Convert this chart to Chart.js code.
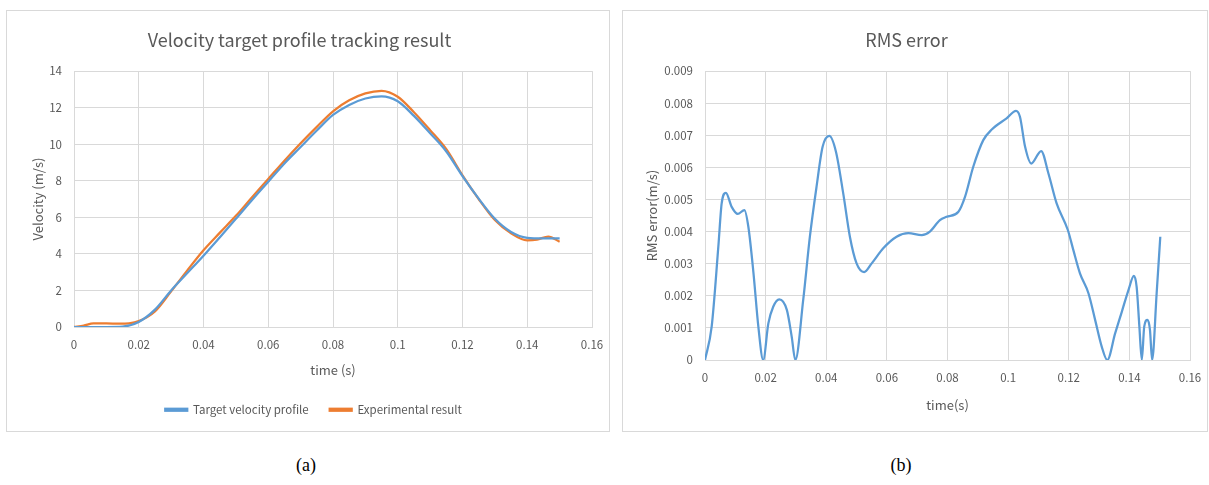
<!DOCTYPE html>
<html><head><meta charset="utf-8">
<script src="https://cdn.jsdelivr.net/npm/chart.js@4.4.0/dist/chart.umd.min.js"></script>
<style>
body{margin:0;background:#fff;width:1209px;height:485px;position:relative;overflow:hidden;}
.box{position:absolute;border:1px solid #d9d9d9;}
#boxA{left:6px;top:10px;width:602px;height:420px;}
#boxB{left:622px;top:10px;width:584px;height:420px;}
.cap{position:absolute;top:455px;font-family:"Liberation Serif";font-size:18px;color:#000;transform:translateX(-50%);}
canvas{display:block;}
</style></head>
<body>
<div class="box" id="boxA"><canvas id="cA" width="602" height="420"></canvas></div>
<div class="box" id="boxB"><canvas id="cB" width="584" height="420"></canvas></div>
<div class="cap" style="left:306px">(a)</div>
<div class="cap" style="left:901px">(b)</div>
<script>
// ---- data (a) ----
const targetTime = [0,0.005,0.01,0.015,0.02,0.025,0.03,0.035,0.04,0.045,0.05,0.055,0.06,0.065,0.07,0.075,0.08,0.085,0.09,0.095,0.1,0.105,0.11,0.115,0.12,0.125,0.13,0.135,0.14,0.145,0.15];
const targetVel  = [0,0,0,0.02,0.28,0.95,2.0,2.95,3.9,4.9,5.92,6.95,7.95,8.95,9.85,10.75,11.6,12.15,12.5,12.62,12.35,11.55,10.6,9.6,8.25,7.02,5.92,5.2,4.88,4.85,4.85];
const expTime = [0,0.003,0.006,0.01,0.014,0.017,0.02,0.025,0.03,0.035,0.04,0.045,0.05,0.055,0.06,0.065,0.07,0.075,0.08,0.085,0.09,0.095,0.1,0.105,0.11,0.115,0.12,0.125,0.13,0.135,0.14,0.143,0.1465,0.15];
const expVel  = [0,0.08,0.2,0.2,0.18,0.2,0.32,0.85,1.95,3.1,4.2,5.15,6.08,7.1,8.1,9.1,10.05,10.95,11.8,12.4,12.78,12.92,12.6,11.75,10.77,9.73,8.3,7.0,5.85,5.12,4.74,4.78,4.95,4.66];
const xTickLabels = ['0','0.02','0.04','0.06','0.08','0.1','0.12','0.14','0.16'];
const velTickLabels = ['0','2','4','6','8','10','12','14'];
// ---- data (b) ----
const rmsTime = [0,0.0022,0.0044,0.0055,0.0069,0.0088,0.0108,0.013,0.0143,0.016,0.0176,0.0192,0.0209,0.0225,0.0245,0.027,0.0286,0.0298,0.0324,0.0346,0.0368,0.0388,0.041,0.0432,0.0456,0.0478,0.05,0.0525,0.055,0.0588,0.0632,0.0671,0.0715,0.0742,0.0775,0.0797,0.0836,0.0858,0.0885,0.0918,0.0946,0.0995,0.1026,0.1039,0.1056,0.1076,0.1109,0.1133,0.116,0.1197,0.1215,0.1237,0.1265,0.1287,0.1309,0.1327,0.1353,0.1375,0.1397,0.1415,0.1424,0.1433,0.1441,0.1449,0.146,0.1468,0.1475,0.149,0.1502];
const rmsValue = [0,0.00104,0.00353,0.00488,0.00521,0.00477,0.00455,0.00467,0.00415,0.0027,0.00104,0,0.00114,0.00166,0.00189,0.00156,0.00073,0,0.00187,0.00384,0.0054,0.00664,0.00698,0.00649,0.00519,0.00384,0.00301,0.00274,0.00301,0.00348,0.00384,0.00395,0.00389,0.004,0.00436,0.00446,0.00462,0.00509,0.00602,0.00685,0.00718,0.00753,0.00776,0.00758,0.00664,0.00612,0.00651,0.00581,0.00488,0.00405,0.00343,0.0027,0.00208,0.00125,0.00041,0,0.00083,0.0015,0.00218,0.00262,0.00228,0.00104,0,0.00104,0.00125,0.00093,0,0.00208,0.00384];
const rmsTickLabels = ['0','0.001','0.002','0.003','0.004','0.005','0.006','0.007','0.008','0.009'];

const FONT = '"Noto Sans CJK KR","Noto Sans",sans-serif';
const GRAY = '#595959';
const GRID = '#d9d9d9';
const BLUE = '#5b9bd5';
const ORANGE = '#ed7d31';
Chart.defaults.font.family = FONT;
Chart.defaults.color = GRAY;

function pts(xs, ys){ return xs.map((x,i)=>({x:x, y:ys[i]})); }

const legendShift = {
  id:'legendShift',
  afterLayout(chart, args, opts){
    const lg = chart.legend;
    if (lg && opts.dx) { lg.left += opts.dx; lg.right += opts.dx; lg.bottom += 20; lg.height += 20; }
  }
};

function makeOpts(cfg){
  return {
    responsive:false, animation:false, devicePixelRatio:1,
    layout:{padding:{left:0,right:17,top:0,bottom:cfg.padBottom}},
    plugins:{
      title:{display:true,text:cfg.title,color:GRAY,font:{family:FONT,size:18,weight:'normal'},padding:{top:18,bottom:20.5}},
      legend:cfg.legend,
      legendShift:{dx:cfg.legendDx||0},
      tooltip:{enabled:false}
    },
    elements:{point:{radius:0}},
    scales:{
      x:{type:'linear',min:0,max:0.16,
        afterFit:(s)=>{s.height=cfg.xH; s.paddingRight=0; s.paddingLeft=0;},
        afterBuildTicks:(s)=>{s.ticks=xTickLabels.map((t,i)=>({value:i*0.02}));},
        ticks:{padding:11,color:GRAY,font:{size:11.5},maxRotation:0,autoSkip:false,callback:(v,i)=>xTickLabels[i]},
        grid:{color:GRID,drawTicks:false,lineWidth:1},
        border:{color:GRID},
        title:{display:true,text:cfg.xTitle,color:GRAY,font:{size:13},padding:{top:0,bottom:cfg.xTitlePad}}
      },
      y:{type:'linear',min:0,max:cfg.yMax,
        afterFit:(s)=>{s.width=cfg.yW;},
        afterBuildTicks:(s)=>{s.ticks=cfg.yLabels.map((t,i)=>({value:i*cfg.yStep}));},
        ticks:{padding:12,color:GRAY,font:{size:11.5},autoSkip:false,callback:(v,i)=>cfg.yLabels[i]},
        grid:{color:GRID,drawTicks:false,lineWidth:1},
        border:{color:GRID},
        title:{display:true,text:cfg.yTitle,color:GRAY,font:{size:13},padding:{top:cfg.yTitlePad,bottom:0}}
      }
    }
  };
}

new Chart(document.getElementById('cA'),{
  type:'line',
  data:{datasets:[
    {label:'Target velocity profile',data:pts(targetTime,targetVel),borderColor:BLUE,backgroundColor:BLUE,borderWidth:2.25,cubicInterpolationMode:'monotone',fill:false},
    {label:'Experimental result',data:pts(expTime,expVel),borderColor:ORANGE,backgroundColor:ORANGE,borderWidth:2.25,cubicInterpolationMode:'monotone',fill:false}
  ]},
  options:makeOpts({title:'Velocity target profile tracking result',padBottom:16,xH:56,xTitle:'time (s)',xTitlePad:5.5,
    yMax:14,yStep:2,yLabels:velTickLabels,yW:67,yTitle:'Velocity (m/s)',yTitlePad:23,legendDx:14,
    legend:{display:true,position:'bottom',maxHeight:32,labels:{boxWidth:22,boxHeight:2,padding:21,color:GRAY,font:{size:11.5}}}}),
  plugins:[legendShift]
});

new Chart(document.getElementById('cB'),{
  type:'line',
  data:{datasets:[
    {label:'RMS error',data:pts(rmsTime,rmsValue),borderColor:BLUE,backgroundColor:BLUE,borderWidth:2.25,cubicInterpolationMode:'monotone',fill:false}
  ]},
  options:makeOpts({title:'RMS error',padBottom:0,xH:71,xTitle:'time(s)',xTitlePad:18.5,
    yMax:0.009,yStep:0.001,yLabels:rmsTickLabels,yW:82,yTitle:'RMS error(m/s)',yTitlePad:21,
    legend:{display:false}}),
  plugins:[legendShift]
});
</script>
</body></html>
